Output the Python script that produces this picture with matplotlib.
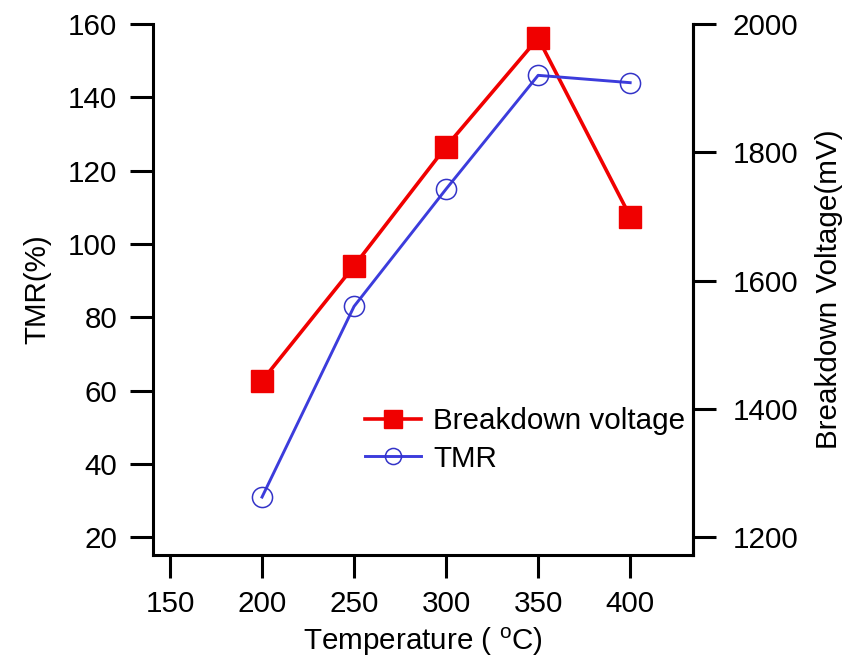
import matplotlib
matplotlib.use("Agg")
import matplotlib.pyplot as plt

# Annealing temperature series
temperature = [200, 250, 300, 350, 400]
breakdown_voltage = [1444, 1623, 1809, 1978, 1700]   # mV
tmr = [31, 83, 115, 146, 144]                        # %

x_ticks = [150, 200, 250, 300, 350, 400]
tmr_ticks = [20, 40, 60, 80, 100, 120, 140, 160]
bv_ticks = [1200, 1400, 1600, 1800, 2000]

plt.rcParams["font.family"] = ["Liberation Sans", "DejaVu Sans"]
plt.rcParams["mathtext.fontset"] = "custom"
plt.rcParams["mathtext.rm"] = "Liberation Sans"
plt.rcParams["mathtext.it"] = "Liberation Sans"

FS = 21.3
RED = "#f00000"
BLUE = "#3c3cdc"

fig = plt.figure(figsize=(8.43, 6.59), dpi=100)
W, H = 843, 659
left, right, top, bottom = 152.7, 693.3, 24, 555
ax = fig.add_axes([left / W, 1 - bottom / H, (right - left) / W, (bottom - top) / H])
ax2 = ax.twinx()

bv_line, = ax2.plot(temperature, breakdown_voltage, color=RED, lw=2.6,
                    marker="s", ms=16, mfc=RED, mec=RED, label="Breakdown voltage")
tmr_line, = ax.plot(temperature, tmr, color=BLUE, lw=2.1,
                    marker="o", ms=14.5, mfc="none", mec="#3434c8", mew=1.1, label="TMR")

# TMR axes drawn in front so the blue trace sits over the red one
ax.set_zorder(ax2.get_zorder() + 1)
ax.patch.set_visible(False)

ax.set_xlim(140.6, 434.3)
ax.set_ylim(15.2, 160)
ax2.set_ylim(1172.5, 2000)
ax.set_xticks(x_ticks)
ax.set_yticks(tmr_ticks)
ax2.set_yticks(bv_ticks)

for a in (ax, ax2):
    a.spines["top"].set_visible(False)
    for s in a.spines.values():
        s.set_linewidth(2.2)
    a.tick_params(direction="out", length=16.5, width=2.2, labelsize=FS, pad=9)
ax2.tick_params(axis="y", pad=12)
ax2.spines["left"].set_visible(False)
ax2.spines["bottom"].set_visible(False)

ax.set_xlabel("Temperature ( $^{\\mathregular{o}}$C)", fontsize=FS, labelpad=5)
ax.set_ylabel("TMR(%)", fontsize=FS, labelpad=12)
ax2.set_ylabel("Breakdown Voltage(mV)", fontsize=FS, labelpad=12)

fig.legend(handles=[bv_line, tmr_line], loc="center left",
           bbox_to_anchor=(365 / W, 1 - 440 / H), frameon=False, fontsize=FS,
           handlelength=1.9, handletextpad=0.4, labelspacing=0.31, borderpad=0,
           borderaxespad=0, markerscale=0.8)

fig.savefig("out.png", dpi=100, facecolor="white")
